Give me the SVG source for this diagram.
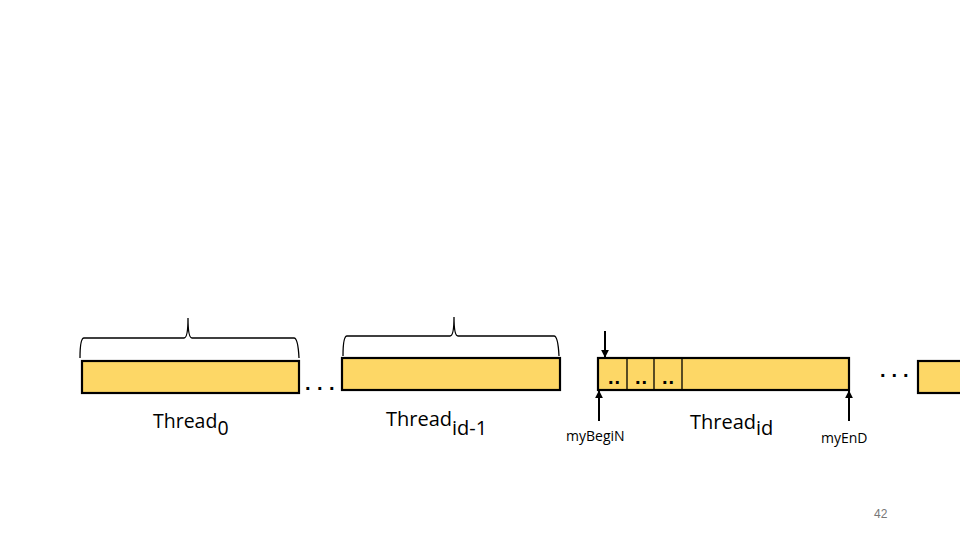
<svg xmlns="http://www.w3.org/2000/svg" width="960" height="540" viewBox="0 0 960 540">
<style>
.box{fill:#FDD766;stroke:#000;stroke-width:2.2}
.brace{fill:none;stroke:#000;stroke-width:1.3}
.lbl{font-family:"Open Sans","Liberation Sans",sans-serif;fill:#000}
.dots{font-family:"Liberation Sans",sans-serif;font-size:20px;font-weight:bold;fill:#000}
.arr{stroke:#000;stroke-width:2;fill:none}
</style>
<defs>
<marker id="ah" viewBox="0 0 10 10" refX="9" refY="5" markerWidth="8" markerHeight="8" orient="auto" markerUnits="userSpaceOnUse">
<path d="M0,0 L10,5 L0,10 z" fill="#000"/>
</marker>
</defs>
<rect width="960" height="540" fill="#fff"/>
<g id="block0">
<rect class="box" x="82" y="361" width="217" height="32"/>
<path class="brace" d="M80,358 Q80,338 84,338 L184,338 Q188,338 188,318 Q188,338 192,338 L294,338 Q298,338 299,358"/>
<text class="lbl" x="153" y="428" font-size="19.5">Thread<tspan dy="7">0</tspan></text>
</g>
<g id="dots1"><text class="dots" x="305" y="390" letter-spacing="6.5">...</text></g>
<g id="block1">
<rect class="box" x="342" y="358" width="218" height="32"/>
<path class="brace" d="M343,356 Q343,336 347,336 L450,336 Q454,336 454,317 Q454,336 458,336 L554,336 Q558,336 559,356"/>
<text class="lbl" x="386" y="426" font-size="20">Thread<tspan dy="9">id-1</tspan></text>
</g>
<g id="block2">
<rect class="box" x="598" y="358" width="251" height="32"/>
<line x1="627" y1="358" x2="627" y2="390" stroke="#000" stroke-width="1.3"/>
<line x1="654" y1="358" x2="654" y2="390" stroke="#000" stroke-width="1.3"/>
<line x1="682" y1="358" x2="682" y2="390" stroke="#000" stroke-width="1.3"/>
<text class="dots" x="608" y="384" font-size="16" letter-spacing="1">..</text>
<text class="dots" x="635" y="384" font-size="16" letter-spacing="1">..</text>
<text class="dots" x="662" y="384" font-size="16" letter-spacing="1">..</text>
<text class="lbl" x="690" y="429" font-size="20">Thread<tspan dy="6">id</tspan></text>
</g>
<g id="dots2"><text class="dots" x="880" y="377" letter-spacing="6">...</text></g>
<g id="block3">
<rect class="box" x="918" y="361" width="50" height="32"/>
</g>
<g id="labelBegin"><text class="lbl" x="566" y="441" font-size="14">myBegiN</text></g>
<g id="labelEnd"><text class="lbl" x="821" y="443" font-size="14">myEnD</text></g>
<g id="connectors">
<line class="arr" x1="605" y1="331" x2="605" y2="357" marker-end="url(#ah)"/>
<line class="arr" x1="599" y1="421" x2="599" y2="391" marker-end="url(#ah)"/>
<line class="arr" x1="849" y1="421" x2="849" y2="391" marker-end="url(#ah)"/>
</g>
<text x="874" y="518" font-family="Liberation Sans,sans-serif" font-size="12" fill="#777">42</text>
</svg>
